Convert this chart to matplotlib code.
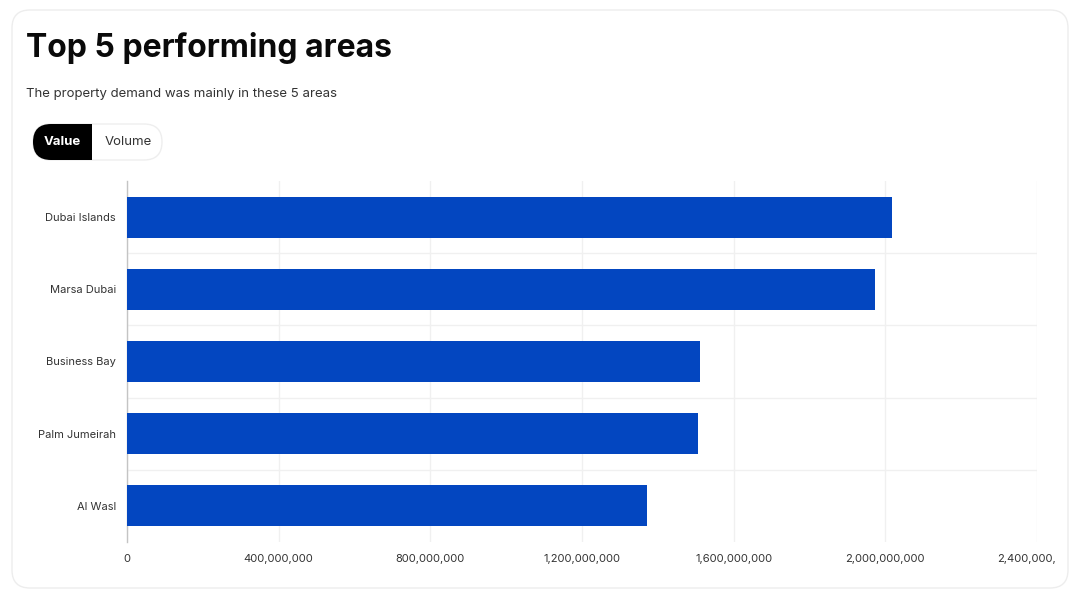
import matplotlib.pyplot as plt
from matplotlib.patches import FancyBboxPatch, Rectangle
from matplotlib.ticker import FuncFormatter, MultipleLocator
from matplotlib.transforms import Bbox

# data (AED)
AREAS = ['Dubai Islands', 'Marsa Dubai', 'Business Bay', 'Palm Jumeirah', 'Al Wasl']
VALUES = [2017e6, 1972e6, 1511e6, 1506e6, 1371e6]
X_MAX = 2.4e9

TITLE = 'Top 5 performing areas'
SUBTITLE = 'The property demand was mainly in these 5 areas'
TOGGLE = ['Value', 'Volume']

BAR_COLOR = '#0346C0'
GRID_COLOR = '#f0f0f0'
TEXT_COLOR = '#333333'
FONT = 'Inter'

W, H = 1080, 598


def main():
    plt.rcParams['font.family'] = FONT
    fig = plt.figure(figsize=(W / 100, H / 100), dpi=100)
    fig.patch.set_facecolor('white')

    # background layer in pixel coords (top-left origin)
    bg = fig.add_axes([0, 0, 1, 1], zorder=-1)
    bg.set_xlim(0, W)
    bg.set_ylim(H, 0)
    bg.axis('off')

    bg.add_patch(FancyBboxPatch((12, 10), 1056, 578,
                                boxstyle='round,pad=0,rounding_size=18',
                                facecolor='white', edgecolor='#ededed',
                                linewidth=1.0))

    # header
    bg.text(26, 48, TITLE, fontsize=23, fontweight='bold',
            color='#0a0a0a', va='center', ha='left')
    bg.text(26, 94, SUBTITLE, fontsize=9.5, color=TEXT_COLOR,
            va='center', ha='left')

    # toggle pill
    bg.add_patch(FancyBboxPatch((33, 124), 129, 36,
                                boxstyle='round,pad=0,rounding_size=18',
                                facecolor='white', edgecolor='#eeeeee',
                                linewidth=1.0))
    bg.add_patch(FancyBboxPatch((33, 124), 59, 36,
                                boxstyle='round,pad=0,rounding_size=18',
                                facecolor='black', edgecolor='none'))
    bg.add_patch(Rectangle((70, 124), 22, 36, facecolor='black',
                           edgecolor='none'))
    bg.text(62.5, 142, TOGGLE[0], fontsize=9.5, fontweight='bold',
            color='white', ha='center', va='center')
    bg.text(128, 142, TOGGLE[1], fontsize=9.5, color=TEXT_COLOR,
            ha='center', va='center')

    # chart
    left, right = 127 / W, 1037 / W
    top, bottom = 1 - 181 / H, 1 - 542 / H
    ax = fig.add_axes([left, bottom, right - left, top - bottom])
    ax.set_facecolor('none')

    ypos = list(range(len(AREAS)))
    ax.barh(ypos, VALUES, height=0.57, color=BAR_COLOR, zorder=3)
    ax.set_xlim(0, X_MAX)
    ax.set_ylim(len(AREAS) - 0.5, -0.5)
    ax.set_yticks(ypos)
    ax.set_yticklabels(AREAS)

    ax.xaxis.set_major_locator(MultipleLocator(4e8))
    ax.xaxis.set_major_formatter(FuncFormatter(lambda v, p: f'{int(v):,}'))
    ax.set_yticks([i + 0.5 for i in ypos[:-1]], minor=True)

    ax.grid(axis='x', which='major', color=GRID_COLOR, linewidth=1, zorder=0)
    ax.grid(axis='y', which='minor', color=GRID_COLOR, linewidth=1, zorder=0)
    ax.grid(axis='y', which='major', visible=False)

    for side in ['top', 'right', 'bottom']:
        ax.spines[side].set_visible(False)
    ax.spines['left'].set_color('#c4c4c4')
    ax.spines['left'].set_linewidth(1)

    ax.tick_params(axis='both', which='both', length=0, colors=TEXT_COLOR,
                   labelsize=8)
    ax.tick_params(axis='x', pad=9)
    ax.tick_params(axis='y', pad=8)

    # the last tick label is cut by the card edge in the original
    fig.canvas.draw()
    clip = Bbox([[0, 0], [1056, H]])
    for lbl in ax.get_xticklabels():
        lbl.set_clip_on(True)
        lbl.set_clip_box(clip)

    plt.savefig('out.png', dpi=100, facecolor='white')
    plt.close()


if __name__ == '__main__':
    main()
